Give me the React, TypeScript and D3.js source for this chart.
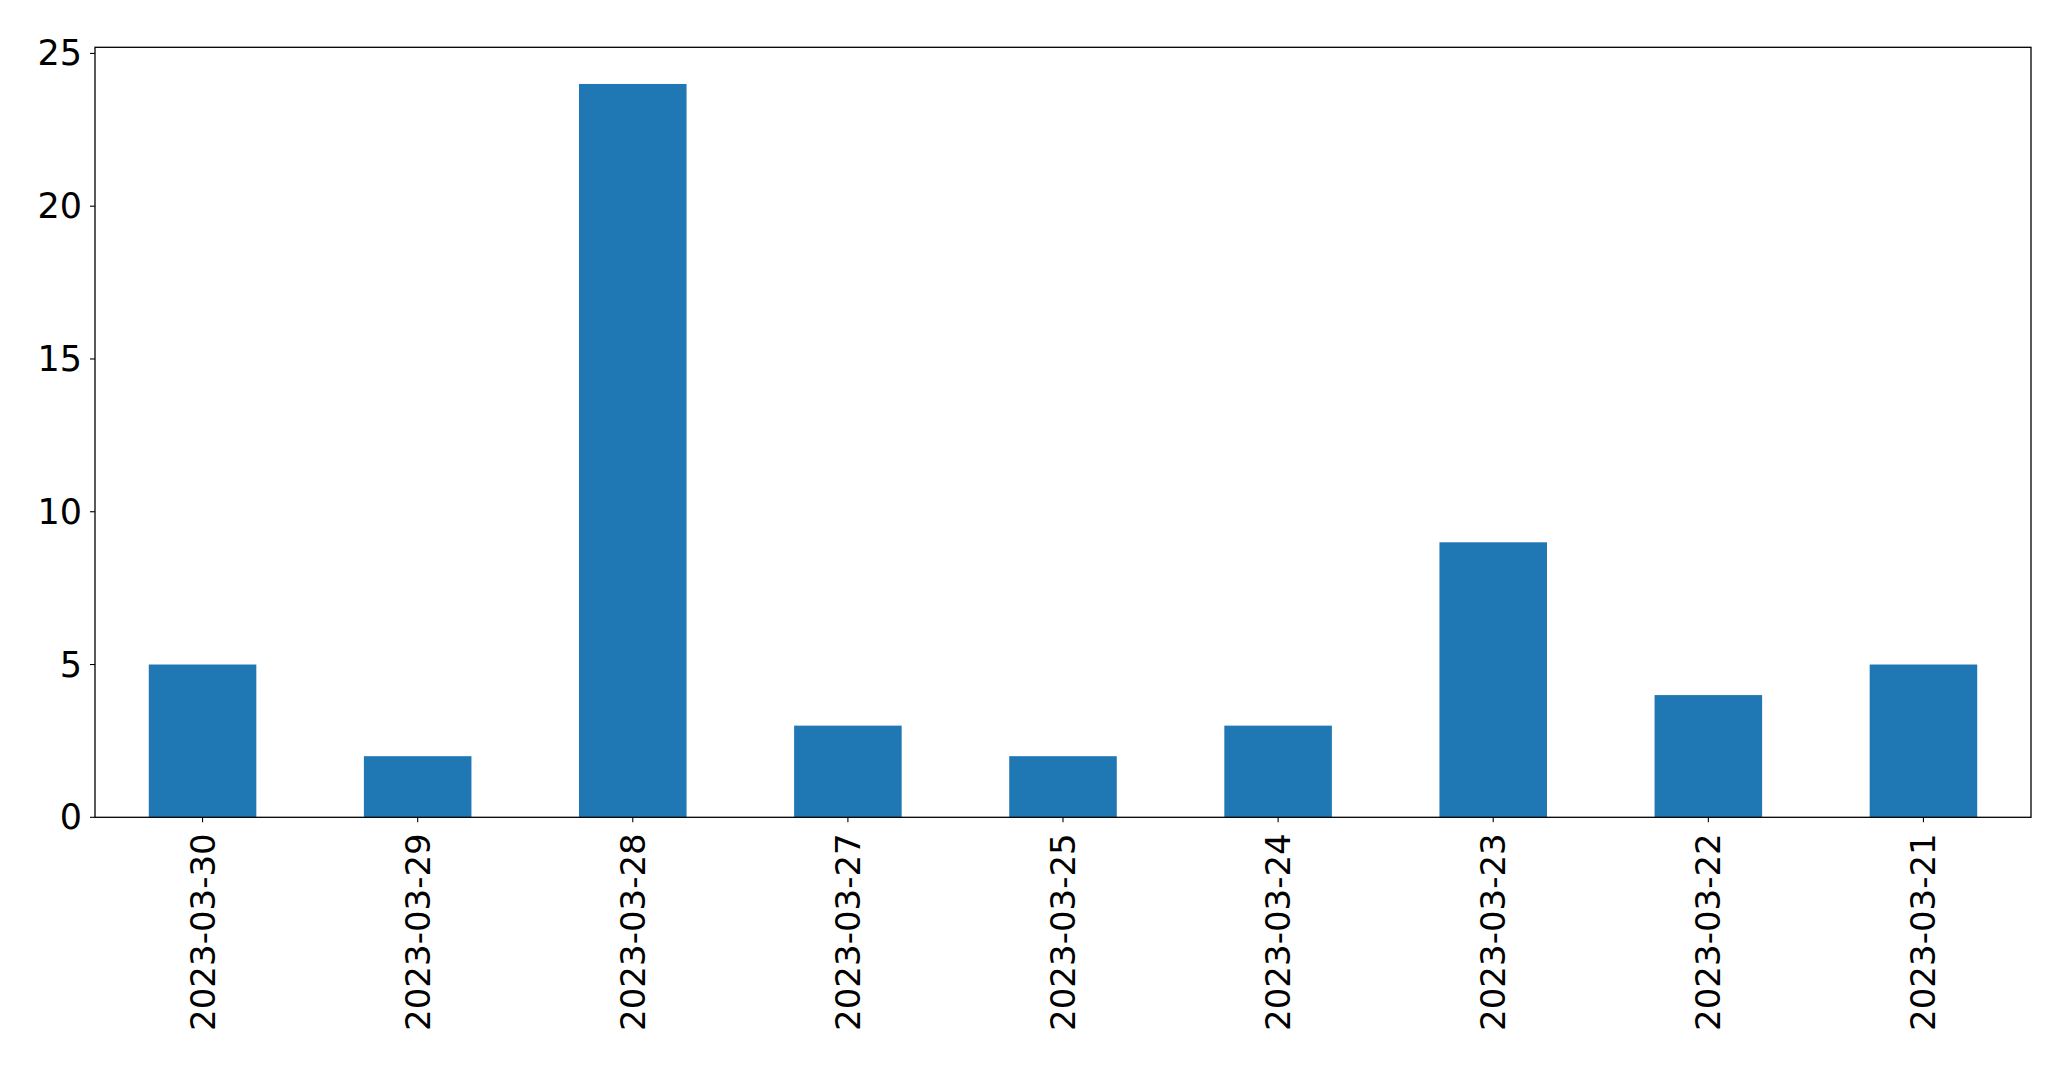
import React from "react";
import * as d3 from "d3";

const categories = ["2023-03-30", "2023-03-29", "2023-03-28", "2023-03-27", "2023-03-25", "2023-03-24", "2023-03-23", "2023-03-22", "2023-03-21"];
const values = [5, 2, 24, 3, 2, 3, 9, 4, 5];
const yTicks = [0, 5, 10, 15, 20, 25];

const W = 2071;
const H = 1069;
const M = { left: 95, right: 2031, top: 47.3, bottom: 817.3 };

export default function App() {
  const x = d3.scaleBand<string>().domain(categories).range([M.left, M.right]).paddingInner(0.5).paddingOuter(0.25);
  const yMax = d3.max(values)! * 1.05;
  const y = d3.scaleLinear().domain([0, yMax]).range([M.bottom, M.top]);
  const font = "DejaVu Sans, sans-serif";
  return (
    <svg width={W} height={H} style={{ position: "absolute", left: 0, top: 0 }}>
      <rect x={0} y={0} width={W} height={H} fill="#fff" />
      {categories.map((c, i) => (
        <rect key={c} x={x(c)!} y={y(values[i])} width={x.bandwidth()} height={y(0) - y(values[i])} fill="#1f77b4" />
      ))}
      <rect x={M.left} y={M.top} width={M.right - M.left} height={M.bottom - M.top} fill="none" stroke="#000" strokeWidth={1.3} />
      {yTicks.map((t) => (
        <g key={t}>
          <line x1={M.left - 5} x2={M.left} y1={y(t)} y2={y(t)} stroke="#000" strokeWidth={1.1} />
          <text x={M.left - 13} y={y(t)} textAnchor="end" dominantBaseline="central" fontFamily={font} fontSize={35} fill="#000">
            {t}
          </text>
        </g>
      ))}
      {categories.map((c) => {
        const cx = x(c)! + x.bandwidth() / 2;
        return (
          <g key={c}>
            <line x1={cx} x2={cx} y1={M.bottom} y2={M.bottom + 5} stroke="#000" strokeWidth={1.1} />
            <text transform={`translate(${cx},${M.bottom + 16}) rotate(-90)`} textAnchor="end" dominantBaseline="central" fontFamily={font} fontSize={34} fill="#000">
              {c}
            </text>
          </g>
        );
      })}
    </svg>
  );
}
